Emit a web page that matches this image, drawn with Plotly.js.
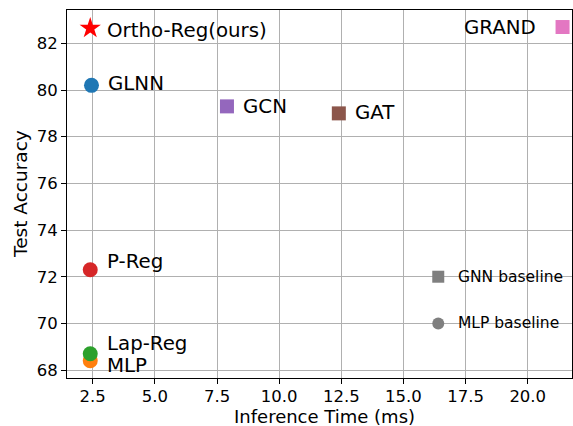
<!DOCTYPE html>
<html><head><meta charset="utf-8">
<script src="https://cdn.plot.ly/plotly-3.0.1.min.js"></script>
<style>html,body{margin:0;padding:0;background:#fff}#chart{width:573px;height:426px}</style>
</head><body><div id="chart"></div>
<script>
const methods = ["Ortho-Reg(ours)","GLNN","GCN","GAT","GRAND","P-Reg","Lap-Reg","MLP"];
const inferenceTime = [2.4, 2.45, 7.9, 12.4, 21.4, 2.4, 2.4, 2.4];
const testAccuracy = [82.65, 80.2, 79.3, 79.0, 82.7, 72.3, 68.7, 68.4];
const symbols = ["star","circle","square","square","square","circle","circle","circle"];
const colors = ["#ff0000","#1f77b4","#9467bd","#8c564b","#e377c2","#d62728","#2ca02c","#ff7f0e"];
const baselineLabels = ["GNN baseline","MLP baseline"];
const baselineSymbols = ["square","circle"];
const baselineX = [16.4, 16.4];
const baselineY = [72, 70];
const xTitle = "Inference Time (ms)";
const yTitle = "Test Accuracy";

const font = "DejaVu Sans, sans-serif";
const traces = [];
const order = [7,6,5,0,1,2,3,4];
order.forEach(i => {
  traces.push({
    x:[inferenceTime[i]], y:[testAccuracy[i]], type:"scatter", mode:"markers",
    marker:{symbol:symbols[i], color:colors[i], size: symbols[i]==="star"?16:(symbols[i]==="square"?14:15), line:{width:0}},
    showlegend:false, hoverinfo:"skip"
  });
});
traces.push({
  x: baselineX, y: baselineY, type:"scatter", mode:"markers",
  marker:{symbol:baselineSymbols, color:"#7f7f7f", size:12, line:{width:0}},
  showlegend:false, hoverinfo:"skip"
});

const labelOffsets = {
  "Ortho-Reg(ours)":[15,-2,"left"],
  "GLNN":[15,2,"left"],
  "GCN":[14,0,"left"],
  "GAT":[14,1,"left"],
  "GRAND":[-25,0,"right"],
  "P-Reg":[15,8,"left"],
  "Lap-Reg":[15,10,"left"],
  "MLP":[15,-5,"left"]
};
const annotations = methods.map((m,i)=>({
  x: inferenceTime[i], y: testAccuracy[i], xref:"x", yref:"y", text:m, showarrow:false,
  xanchor: labelOffsets[m][2], yanchor:"middle",
  xshift: labelOffsets[m][0], yshift: labelOffsets[m][1],
  font:{family:font, size:19.8, color:"#000"}
}));
baselineLabels.forEach((t,i)=>{
  annotations.push({x:baselineX[i], y:baselineY[i], xref:"x", yref:"y", text:t, showarrow:false,
    xanchor:"left", yanchor:"middle", xshift:18, yshift:0, font:{family:font, size:15.5, color:"#000"}});
});
// axis titles
annotations.push({x:0.5, y:0, xref:"paper", yref:"paper", text:xTitle, showarrow:false,
  xanchor:"center", yanchor:"middle", yshift:-38, xshift:5, font:{family:font, size:18, color:"#000"}});
annotations.push({x:0, y:0.5, xref:"paper", yref:"paper", text:yTitle, showarrow:false, textangle:-90,
  xanchor:"center", yanchor:"middle", xshift:-47, font:{family:font, size:18.5, color:"#000"}});

const axisCommon = {
  showgrid:true, gridcolor:"#b0b0b0", gridwidth:1, zeroline:false,
  showline:true, linecolor:"#000", linewidth:1, mirror:true,
  ticks:"outside", ticklen:5, tickcolor:"#000", tickwidth:1,
  tickfont:{family:font, size:16.5, color:"#000"}
};
const layout = {
  width:573, height:426, paper_bgcolor:"#fff", plot_bgcolor:"#fff",
  margin:{l:67, r:1, t:10, b:48},
  xaxis: Object.assign({}, axisCommon, {range:[1.465, 21.78], tickvals:[2.5,5,7.5,10,12.5,15,17.5,20],
    ticktext:["2.5","5.0","7.5","10.0","12.5","15.0","17.5","20.0"], ticklabelstandoff:-2}),
  yaxis: Object.assign({}, axisCommon, {range:[67.66, 83.43], tickvals:[68,70,72,74,76,78,80,82]}),
  annotations: annotations,
  showlegend:false
};
Plotly.newPlot("chart", traces, layout, {displayModeBar:false, staticPlot:true});
</script></body></html>
